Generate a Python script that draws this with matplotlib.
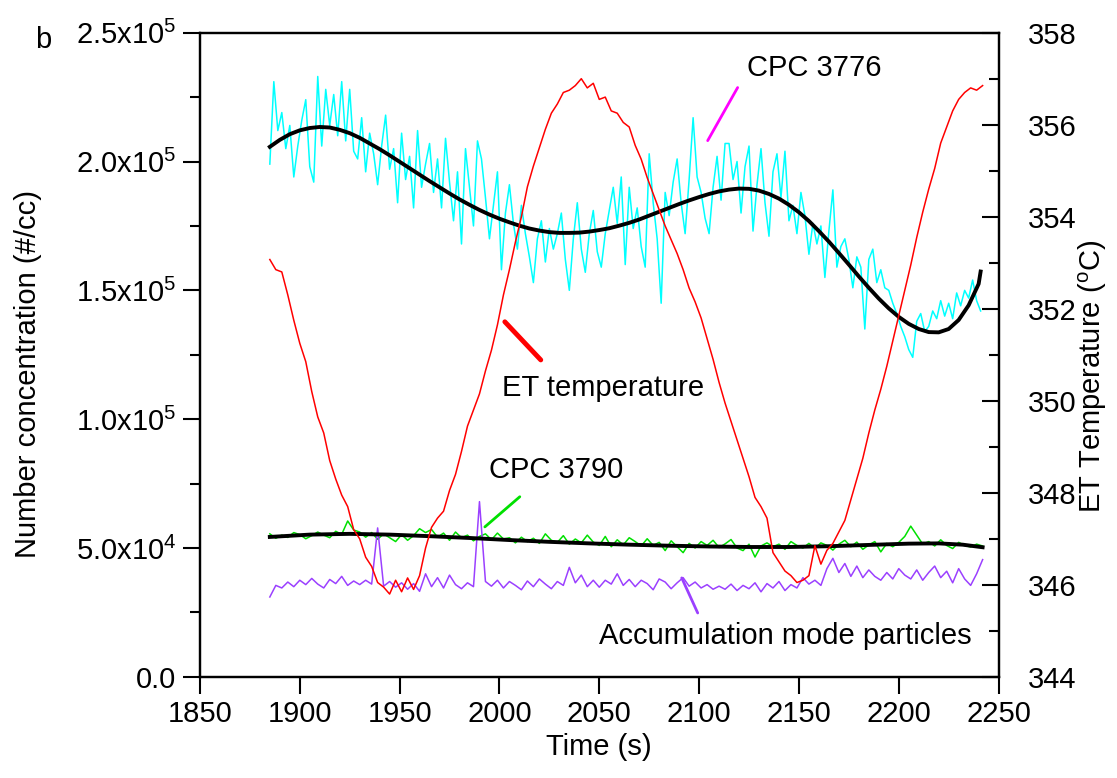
import numpy as np
import matplotlib
matplotlib.use('Agg')
import matplotlib.pyplot as plt
from matplotlib.ticker import MultipleLocator

plt.rcParams['font.family'] = ['Liberation Sans', 'DejaVu Sans']
plt.rcParams['mathtext.default'] = 'regular'

# CPC 3776 raw counts (x1000 #/cc), every 2 s from 1885 s
cpc3776_t0, cpc3776_dt = 1885, 2
cpc3776 = [199, 231, 212, 219, 205, 214, 194, 206, 216, 224, 198, 192, 233, 206, 228, 214,
           226, 210, 231, 208, 228, 204, 201, 217, 196, 211, 203, 191, 206, 218, 197, 205,
           184, 211, 193, 202, 182, 212, 190, 199, 207, 188, 201, 182, 209, 192, 177, 196,
           168, 205, 190, 175, 208, 201, 186, 170, 183, 196, 158, 180, 191, 176, 166, 183,
           172, 163, 153, 170, 177, 161, 174, 166, 172, 180, 162, 150, 170, 184, 166, 157,
           172, 181, 165, 159, 172, 181, 190, 176, 194, 160, 190, 174, 182, 167, 159, 203,
           184, 170, 145, 188, 179, 192, 201, 184, 172, 193, 217, 194, 188, 178, 172, 190,
           202, 185, 207,
           207, 193, 200, 180, 198, 206, 173, 191, 205, 184, 171, 196, 203, 186, 204, 177,
           183, 172, 188, 179, 164, 176, 168, 175, 155, 173, 189, 159, 167, 170, 162, 151,
           163, 159, 135, 162, 166, 153, 158, 151, 150, 145, 141, 136, 132, 127, 124, 138,
           141, 134, 136, 142, 139, 146, 140, 145, 139, 149, 144, 150, 147, 154, 146, 142]

# polynomial fit of CPC 3776 (x1000), read every 5 s
fit3776_t0, fit3776_dt = 1885, 5
fit3776 = [205.7, 208.4, 210.6, 212.1, 213.0, 213.4, 213.2, 212.3, 211.0, 209.2, 207.0,
           204.8, 202.4, 199.9, 197.4, 194.9, 192.4, 190.0, 187.6, 185.3, 183.2, 181.2,
           179.4, 177.8, 176.4, 175.1, 174.0, 173.2, 172.6, 172.3, 172.3, 172.4, 172.8,
           173.4, 174.1, 175.1, 176.2, 177.5, 179.0, 180.5, 182.0, 183.5, 184.9, 186.2,
           187.4, 188.4, 189.1, 189.5, 189.4, 188.7, 187.4, 185.6, 183.2, 180.3, 176.9,
           173.0, 168.9, 164.5, 160.0, 155.4, 151.0, 146.8, 143.0, 139.7, 137.0, 135.0,
           133.8, 133.7, 135.0, 138.5, 144.2, 152.5]
fit3776_end = (2241, 157.3)

# CPC 3790, accumulation mode and ET temperature, every 3 s from 1885 s
slow_t0, slow_dt = 1885, 3
cpc3790 = [55.5, 53.8, 55.0, 54.1, 56.0, 55.2, 53.6, 54.8, 56.2, 55.0, 54.0, 56.5, 55.3, 60.5,
           57.0, 56.2, 54.2, 56.0, 53.4, 55.5, 54.0, 52.5, 55.2, 53.0, 54.8, 57.5, 56.0, 57.2,
           54.2, 55.8, 53.0, 56.2, 54.0, 55.0, 52.8, 54.5, 55.5, 53.2, 55.8, 53.5, 54.0, 52.0,
           54.2, 52.5, 53.8, 51.8, 55.5, 53.0, 52.2, 54.8, 51.5, 53.5, 52.0, 55.0, 52.3, 51.0,
           54.5, 50.5, 53.2, 51.2, 54.0, 52.5, 50.8, 53.6, 51.0, 52.2, 49.0, 52.8, 50.5, 48.2,
           51.8, 50.0, 52.5, 51.0, 53.0, 50.2, 51.6, 53.3, 50.0, 49.0, 51.5, 46.5, 50.8, 52.0,
           50.5, 51.5, 49.5, 52.5, 51.0, 50.0, 51.8, 49.8, 52.0, 51.0, 49.2, 51.5, 53.0, 50.5,
           52.3, 49.5, 51.2, 52.5, 48.5, 51.8, 50.5, 52.2, 54.5, 58.5, 55.0, 51.5, 52.5, 50.8,
           53.2, 51.0, 49.8, 52.2, 51.0, 50.4, 51.5, 50.8]
accum = [31.0, 35.5, 34.5, 36.8, 35.0, 37.5, 35.8, 38.2, 36.0, 34.5, 37.8, 36.2, 39.0, 35.5,
         37.2, 35.8, 37.5, 36.0, 57.8, 35.2, 37.0, 34.8, 36.5, 34.0, 36.2, 33.2, 40.0, 35.0,
         38.5, 34.5, 39.5, 35.8, 34.2, 36.5, 35.0, 68.0, 37.0, 35.2, 37.5, 34.5, 37.0, 35.5,
         33.8, 37.2, 35.0, 38.0, 36.0, 34.2, 37.0, 35.5, 42.5, 36.5, 39.5, 35.0, 37.5, 34.8,
         37.5, 36.0, 40.0, 35.5, 37.8, 35.0, 37.5, 36.2, 33.8, 38.0, 36.8, 34.2, 36.5, 38.5,
         35.2, 36.8, 34.5, 35.8, 34.0, 35.2, 34.0, 36.0, 33.5, 35.5, 34.2, 36.5, 33.0, 36.2,
         34.5, 37.0, 33.5, 35.8, 34.5, 38.5, 36.0, 37.5, 35.5, 42.0, 46.0, 40.5, 44.0, 39.0,
         43.0, 38.5, 41.5, 39.0, 37.5, 40.5, 38.0, 42.0, 39.5, 38.0, 41.5, 37.5, 40.5, 43.0,
         38.5, 41.0, 36.5, 42.0, 38.0, 35.5, 40.0, 45.5]
et_temp = [353.07, 352.85, 352.80, 352.30, 351.75, 351.25, 350.85, 350.20, 349.65, 349.30,
           348.70, 348.30, 347.95, 347.70, 347.20, 347.00, 346.60, 346.40, 346.05, 345.95,
           345.80, 346.10, 345.85, 346.15, 345.90, 346.20, 346.80, 347.25, 347.45, 347.60,
           348.05, 348.40, 348.90, 349.45, 349.80, 350.15, 350.65, 351.10, 351.65, 352.30,
           352.85, 353.45, 354.00, 354.65, 355.10, 355.50, 355.90, 356.25, 356.45, 356.70,
           356.75, 356.85, 357.00, 356.80, 356.90, 356.55, 356.60, 356.30, 356.25, 356.05,
           355.95, 355.55, 355.25, 354.85, 354.50, 354.15, 353.80, 353.50, 353.20, 352.85,
           352.45, 352.15, 351.80, 351.35, 350.90, 350.40, 349.95, 349.55, 349.15, 348.75,
           348.35, 347.90, 347.70, 347.45, 346.70, 346.50, 346.30, 346.20, 346.05, 346.10,
           346.20, 346.85, 346.45, 346.75, 346.90, 347.15, 347.40, 347.85, 348.30, 348.75,
           349.30, 349.80, 350.25, 350.75, 351.30, 351.85, 352.40, 352.95, 353.55, 354.10,
           354.60, 355.05, 355.60, 355.95, 356.30, 356.55, 356.70, 356.80, 356.75, 356.85]

# polynomial fit of CPC 3790 (x1000)
fit3790_t = [1885, 1905, 1925, 1945, 1965, 1985, 2005, 2025, 2045, 2065, 2085, 2105, 2125,
             2145, 2165, 2185, 2205, 2220, 2232, 2242]
fit3790 = [54.3, 55.2, 55.5, 55.2, 54.6, 53.9, 53.1, 52.4, 51.8, 51.3, 50.9, 50.6, 50.4,
           50.4, 50.7, 51.2, 51.7, 51.8, 51.3, 50.3]

left_ticks = [0, 0.5e5, 1.0e5, 1.5e5, 2.0e5, 2.5e5]
left_labels = ['0.0', r'5.0x10$^{4}$', r'1.0x10$^{5}$', r'1.5x10$^{5}$',
               r'2.0x10$^{5}$', r'2.5x10$^{5}$']
right_ticks = [344, 346, 348, 350, 352, 354, 356, 358]
x_ticks = [1850, 1900, 1950, 2000, 2050, 2100, 2150, 2200, 2250]

t_fast = cpc3776_t0 + cpc3776_dt * np.arange(len(cpc3776))
t_slow = slow_t0 + slow_dt * np.arange(len(cpc3790))
t_fit = list(fit3776_t0 + fit3776_dt * np.arange(len(fit3776))) + [fit3776_end[0]]
y_fit = fit3776 + [fit3776_end[1]]

fig = plt.figure(figsize=(11.17, 7.78), dpi=100)
ax = fig.add_axes([0.179, 0.130, 0.715, 0.828])
ax2 = ax.twinx()

ax.plot(t_fast, np.array(cpc3776) * 1e3, color='#00FFFF', lw=1.1)
ax.plot(t_fit, np.array(y_fit) * 1e3, color='black', lw=2.8, solid_joinstyle='round')
ax.plot(t_slow, np.array(cpc3790) * 1e3, color='#00E000', lw=1.1)
ax.plot(t_slow, np.array(accum) * 1e3, color='#9B40FF', lw=1.1)
ax.plot(fit3790_t, np.array(fit3790) * 1e3, color='black', lw=2.8, solid_joinstyle='round')
ax2.plot(t_slow, et_temp, color='#FF0000', lw=1.1)

fs = 21
ax.set_xlim(1850, 2250)
ax.set_ylim(0, 2.5e5)
ax2.set_ylim(344, 358)
ax.set_xticks(x_ticks)
ax.set_yticks(left_ticks)
ax.set_yticklabels(left_labels)
ax.yaxis.set_minor_locator(MultipleLocator(0.25e5))
ax2.set_yticks(right_ticks)
ax2.yaxis.set_minor_locator(MultipleLocator(1))

ax.tick_params(axis='both', which='major', direction='out', length=12, width=1.5,
               labelsize=fs, pad=5)
ax.tick_params(axis='y', which='minor', direction='out', length=7, width=1.5)
ax2.tick_params(axis='y', which='major', direction='in', length=12, width=1.5,
                labelsize=fs, pad=21)
ax2.tick_params(axis='y', which='minor', direction='in', length=7, width=1.5)
for a in (ax, ax2):
    for s in a.spines.values():
        s.set_linewidth(1.6)

ax.set_xlabel('Time (s)', fontsize=fs)
ax.xaxis.set_label_coords(0.5, -0.087)
ax.set_ylabel('Number concentration (#/cc)', fontsize=fs)
ax.yaxis.set_label_coords(-0.198, 0.47)
ax2.set_ylabel(r'ET Temperature ($^{o}$C)', fontsize=fs)
ax2.yaxis.set_label_coords(1.098, 0.466)

# annotation labels with their leader lines
notes = [
    ('CPC 3776', (2157.9, 236.4e3), (2104.3, 208.1e3), (2119.3, 228.7e3), '#FF00FF', 2),
    ('ET temperature', (2051.8, 112.2e3), (2002.7, 137.8e3), (2020.7, 123.0e3), '#FF0000', 3.5),
    ('CPC 3790', (2028.2, 80.4e3), (1992.7, 58.2e3), (2010.2, 69.9e3), '#00E000', 2),
    ('Accumulation mode particles', (2143.4, 15.9e3), (2091.3, 38.4e3), (2099.3, 24.8e3),
     '#9B40FF', 2),
]
for text, pos, p0, p1, col, w in notes:
    ax.text(pos[0], pos[1], text, fontsize=fs, ha='center', va='center')
    ax.annotate('', xy=p0, xytext=p1,
                arrowprops=dict(arrowstyle='-', lw=w, color=col, shrinkA=0, shrinkB=0))

fig.text(0.0385, 0.949, 'b', fontsize=fs, ha='center', va='center')

fig.savefig('out.png', dpi=100)
